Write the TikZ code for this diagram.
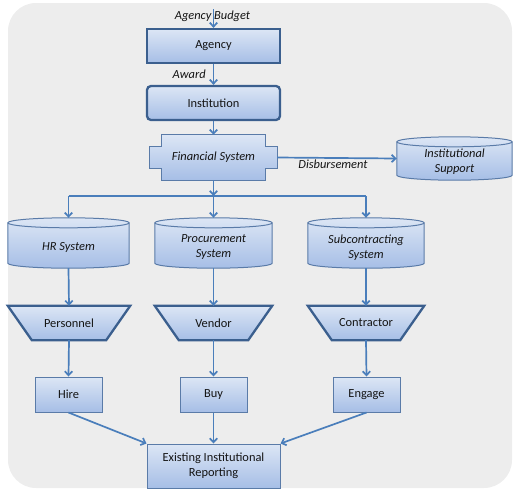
\documentclass[tikz,border=0pt]{standalone}
\usepackage{fontspec}
\setmainfont{Carlito}
\usetikzlibrary{arrows.meta,calc}
\definecolor{bgc}{HTML}{EDEDED}
\definecolor{topc}{HTML}{DCE6F5}
\definecolor{botc}{HTML}{A6BEE6}
\definecolor{thickb}{HTML}{3B5F8E}
\definecolor{thinb}{HTML}{5A7BA8}
\definecolor{arr}{HTML}{4A7EBB}
\pgfdeclarelayer{bgrect}
\pgfdeclarelayer{shapes}
\pgfsetlayers{bgrect,shapes,main}
\tikzset{
  base/.style={inner sep=0pt, font=\fontsize{12.4}{15}\selectfont, align=center, text=black!92},
  grad/.style={top color=topc, bottom color=botc},
  thickbox/.style={base, grad, draw=thickb, line width=2.3pt, minimum width=133pt, minimum height=34pt},
  thinbox/.style={base, grad, draw=thinb, line width=1pt},
  ghost/.style={base},
  thinline/.style={draw=thinb, line width=1pt},
  thickline/.style={draw=thickb, line width=2.3pt, line join=miter},
  flow/.style={draw=arr, line width=1.7pt, -{Straight Barb[length=4pt,width=7.5pt,line width=1.7pt]}},
  plain/.style={draw=arr, line width=1.7pt},
}
\newcommand\cyldraw[1]{%
  \path let \p1=(#1.north west), \p2=(#1.south east), \n1={(\x2-\x1)/2} in
    [grad, thinline] (\x1,\y1-5pt) -- (\x1,\y2+5pt)
      arc[start angle=180, end angle=360, x radius=\n1, y radius=5pt]
      -- (\x2,\y1-5pt)
      arc[start angle=0, end angle=180, x radius=\n1, y radius=5pt] -- cycle;
  \path let \p1=(#1.north west), \p2=(#1.south east), \n1={(\x2-\x1)/2} in
    [thinline] (\x1,\y1-5pt) arc[start angle=180, end angle=360, x radius=\n1, y radius=5pt];}
\newcommand\trapdraw[1]{%
  \path let \p1=(#1.north west), \p2=(#1.south east) in
    [grad, thickline] (\x1,\y1) -- (\x2,\y1) -- (\x2-24pt,\y2) -- (\x1+24pt,\y2) -- cycle;}
\newcommand\findraw[1]{%
  \path let \p1=(#1.north west), \p2=(#1.south east) in
    [grad, thinline] (\x1+12pt,\y1) -- (\x2-12pt,\y1) -- (\x2-12pt,\y1-12pt) -- (\x2,\y1-12pt)
      -- (\x2,\y2+12pt) -- (\x2-12pt,\y2+12pt) -- (\x2-12pt,\y2) -- (\x1+12pt,\y2)
      -- (\x1+12pt,\y2+12pt) -- (\x1,\y2+12pt) -- (\x1,\y1-12pt) -- (\x1+12pt,\y1-12pt) -- cycle;}
\begin{document}
\begin{tikzpicture}[x=1pt,y=1pt]
\useasboundingbox (0,0) rectangle (514,-491);
\begin{pgfonlayer}{bgrect}
  \fill[bgc, rounded corners=28pt] (8,-3) rectangle (512,-488);
\end{pgfonlayer}

% top
\coordinate (src) at (213.5,-9);
\node[ghost] (abtext) at (212.5,-16) {\textit{Agency Budget}};
\node[thickbox] (agency) at (213.5,-46) {Agency};
\node[thickbox, rounded corners=4pt] (inst) at (213.5,-103) {Institution};

% financial system
\node[ghost, minimum width=127pt, minimum height=45pt] (fin) at (213.5,-157.5) {\textit{Financial System}};
\node[ghost, minimum width=115pt, minimum height=43pt] (isup) at (454.5,-158.5) {};
\node[ghost] (isuptext) at (454.5,-161.5) {\textit{Institutional}\\\textit{Support}};

% systems
\node[ghost, minimum width=121pt, minimum height=50pt] (hr) at (68.5,-243) {};
\node[ghost] (hrtext) at (68.5,-247) {\textit{HR System}};
\node[ghost, minimum width=117pt, minimum height=50pt] (proc) at (213.5,-243) {};
\node[ghost] (proctext) at (213.5,-247.5) {\textit{Procurement}\\\textit{System}};
\node[ghost, minimum width=116pt, minimum height=50pt] (sub) at (366,-243) {};
\node[ghost] (subtext) at (366,-247.5) {\textit{Subcontracting}\\\textit{System}};

% trapezoids
\node[ghost, minimum width=122pt, minimum height=34pt] (pers) at (69,-323) {Personnel};
\node[ghost, minimum width=117pt, minimum height=34pt] (vend) at (213.5,-323) {Vendor};
\node[ghost, minimum width=116pt, minimum height=34pt] (cont) at (366,-323) {Contractor};

% actions
\node[thinbox, minimum width=67pt, minimum height=35pt] (hire) at (68.5,-394.5) {Hire};
\node[thinbox, minimum width=67pt, minimum height=35pt] (buy) at (213.5,-394.5) {Buy};
\node[thinbox, minimum width=67pt, minimum height=35pt] (engage) at (366.5,-394.5) {Engage};
\node[thinbox, minimum width=133pt, minimum height=44pt] (report) at (213.5,-466) {Existing Institutional\\Reporting};

\begin{pgfonlayer}{shapes}
  \findraw{fin}
  \cyldraw{isup}
  \cyldraw{hr}
  \cyldraw{proc}
  \cyldraw{sub}
  \trapdraw{pers}
  \trapdraw{vend}
  \trapdraw{cont}
\end{pgfonlayer}

% connectors
\draw[flow] (src) -- (agency.north);
\draw[flow] (agency.south) -- node[base, left, xshift=-7pt] {\textit{Award}} (inst.north);
\draw[flow] (inst.south) -- (fin.north);
\draw[flow] (fin.east) -- node[base, below, yshift=-1pt, xshift=-4pt] {\textit{Disbursement}} (isup.west);
\coordinate (split) at (213.5,-196);
\coordinate (splitl) at (68.5,-196);
\coordinate (splitr) at (366,-196);
\draw[flow] (fin.south) -- (split);
\draw[plain] (splitl) -- (splitr);
\draw[flow] (splitl) -- (hr.north);
\draw[flow] (split) -- (proc.north);
\draw[flow] (splitr) -- (sub.north);
\draw[flow] (hr.south) -- (pers.north);
\draw[flow] (proc.south) -- (vend.north);
\draw[flow] (sub.south) -- (cont.north);
\draw[flow] (pers.south) -- (hire.north);
\draw[flow] (vend.south) -- (buy.north);
\draw[flow] (cont.south) -- (engage.north);
\draw[flow] (hire.south) -- (report.north west);
\draw[flow] (buy.south) -- (report.north);
\draw[flow] (engage.south) -- (report.north east);
\end{tikzpicture}
\end{document}
